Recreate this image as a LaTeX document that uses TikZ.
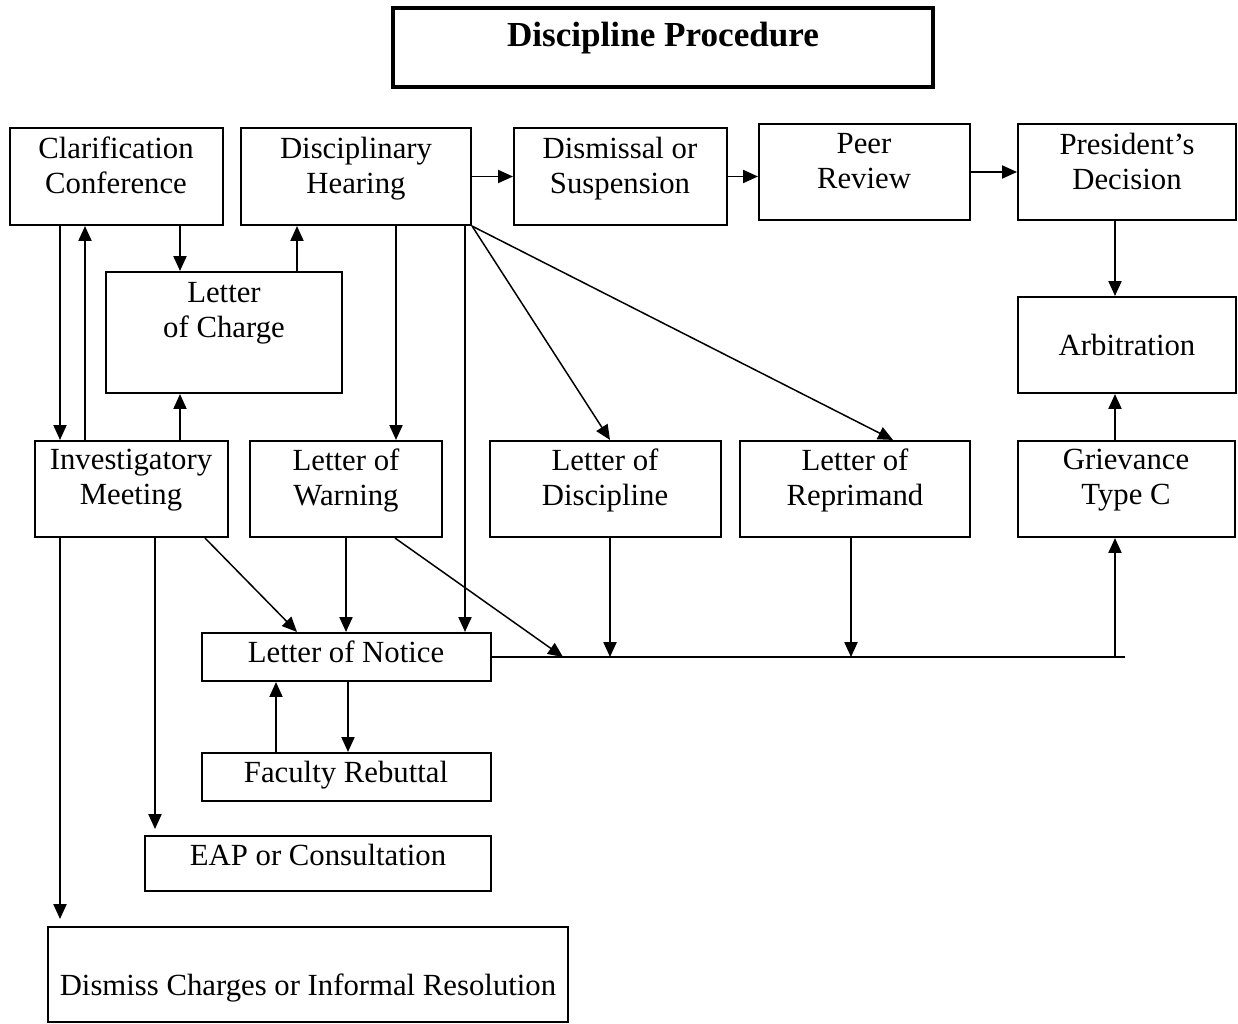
\documentclass[tikz,border=0pt]{standalone}
\usepackage{fontspec}
\setmainfont{Liberation Serif}
\usetikzlibrary{fit,arrows.meta}

\tikzset{
  box/.style={draw,line width=1.2pt,inner sep=0pt},
  txt/.style={align=center,inner sep=0pt,yshift=-2.2pt,font=\fontsize{17.5}{20}\selectfont,
    execute at begin node=\strut,execute at end node=\strut},
  arr/.style={line width=0.85pt,-{Triangle[length=8.5pt,width=7.5pt]}},
}

\begin{document}
\begin{tikzpicture}[x=0.02cm,y=-0.02cm]
\useasboundingbox (0,0) rectangle (1238,1024);
% title
\node[box,line width=2.3pt,fit={(393,8) (933,87)}] (title) {};
\node[txt,font=\fontsize{20}{24}\selectfont\bfseries] (titletxt) at (663,34) {Discipline Procedure};
% top row
\node[box,fit={(10,128) (223,225)}] (clar) {};
\node[txt] (clartxt) at (116,166.5) {Clarification\\Conference};
\node[box,fit={(241,128) (471,225)}] (hear) {};
\node[txt] (heartxt) at (356,166.5) {Disciplinary\\Hearing};
\node[box,fit={(514,128) (727,225)}] (dism) {};
\node[txt] (dismtxt) at (620,166.5) {Dismissal or\\Suspension};
\node[box,fit={(759,124) (970,220)}] (peer) {};
\node[txt] (peertxt) at (864,162.5) {Peer\\Review};
\node[box,fit={(1018,124) (1236,220)}] (pres) {};
\node[txt] (prestxt) at (1127,162.5) {President's\\Decision};
% second row
\node[box,fit={(106,272) (342,393)}] (charge) {};
\node[txt] (chargetxt) at (224,311) {Letter\\of Charge};
\node[box,fit={(1018,297) (1236,393)}] (arb) {};
\node[txt] (arbtxt) at (1127,345) {Arbitration};
% third row
\node[box,fit={(35,441) (228,537)}] (inv) {};
\node[txt] (invtxt) at (131,478.5) {Investigatory\\Meeting};
\node[box,fit={(250,441) (442,537)}] (warn) {};
\node[txt] (warntxt) at (346,478.5) {Letter of\\Warning};
\node[box,fit={(490,441) (721,537)}] (disc) {};
\node[txt] (disctxt) at (605,478.5) {Letter of\\Discipline};
\node[box,fit={(740,441) (970,537)}] (repr) {};
\node[txt] (reprtxt) at (855,478.5) {Letter of\\Reprimand};
\node[box,fit={(1018,441) (1235,537)}] (griev) {};
\node[txt] (grievtxt) at (1126,478.5) {Grievance\\Type C};
% lower boxes
\node[box,fit={(202,633) (491,681)}] (notice) {};
\node[txt] (noticetxt) at (346,652) {Letter of Notice};
\node[box,fit={(202,753) (491,801)}] (rebut) {};
\node[txt] (rebuttxt) at (346,772) {Faculty Rebuttal};
\node[box,fit={(145,836) (491,891)}] (eap) {};
\node[txt] (eaptxt) at (318,855) {EAP or Consultation};
\node[box,fit={(48,927) (568,1022)}] (dismiss) {};
\node[txt] (dismisstxt) at (308,985) {Dismiss Charges or Informal Resolution};
% columns of the connectors
\coordinate (x60) at (60,0);   \coordinate (x85) at (85,0);
\coordinate (x155) at (155,0); \coordinate (x180) at (180,0);
\coordinate (x205) at (205,0); \coordinate (x276) at (276,0);
\coordinate (x297) at (297,0); \coordinate (x348) at (348,0);
\coordinate (x395) at (395,0); \coordinate (x396) at (396,0);
\coordinate (x465) at (465,0); \coordinate (x563) at (563,0);
\coordinate (x610) at (610,0); \coordinate (x851) at (851,0);
\coordinate (x893) at (893,0); \coordinate (x1115) at (1115,0);
\coordinate (eapend) at (155,829);
\coordinate (dismissend) at (60,919);
\coordinate (lineend) at (1125,657);
% top chain
\draw[arr] (hear.east) -- (dism.west);
\draw[arr] (dism.east) -- (dism.east -| peer.west);
\draw[arr] (peer.east) -- (pres.west);
\draw[arr] (pres.south -| x1115) -- (arb.north -| x1115);
\draw[arr] (griev.north -| x1115) -- (arb.south -| x1115);
% left part
\draw[arr] (clar.south -| x60) -- (inv.north -| x60);
\draw[arr] (inv.north -| x85) -- (clar.south -| x85);
\draw[arr] (clar.south -| x180) -- (charge.north -| x180);
\draw[arr] (charge.north -| x297) -- (hear.south -| x297);
\draw[arr] (inv.north -| x180) -- (charge.south -| x180);
\draw[arr] (hear.south -| x396) -- (warn.north -| x396);
\draw[arr] (hear.south -| x465) -- (notice.north -| x465);
\draw[arr] (hear.south east) -- (disc.north -| x610);
\draw[arr] (hear.south east) -- (repr.north -| x893);
% to the notice and the line
\draw[arr] (inv.south -| x205) -- (notice.north -| x297);
\draw[arr] (warn.south) -- (notice.north -| warn.south);
\draw[arr] (warn.south -| x395) -- (notice.east -| x563);
\draw[arr] (disc.south -| x610) -- (notice.east -| x610);
\draw[arr] (repr.south -| x851) -- (notice.east -| x851);
\draw[line width=1.2pt] (notice.east) -- (lineend);
\draw[arr] (notice.east -| x1115) -- (griev.south -| x1115);
\draw[arr] (notice.south -| x348) -- (rebut.north -| x348);
\draw[arr] (rebut.north -| x276) -- (notice.south -| x276);
\draw[arr] (inv.south -| x155) -- (eapend);
\draw[arr] (inv.south -| x60) -- (dismissend);
\end{tikzpicture}
\end{document}
